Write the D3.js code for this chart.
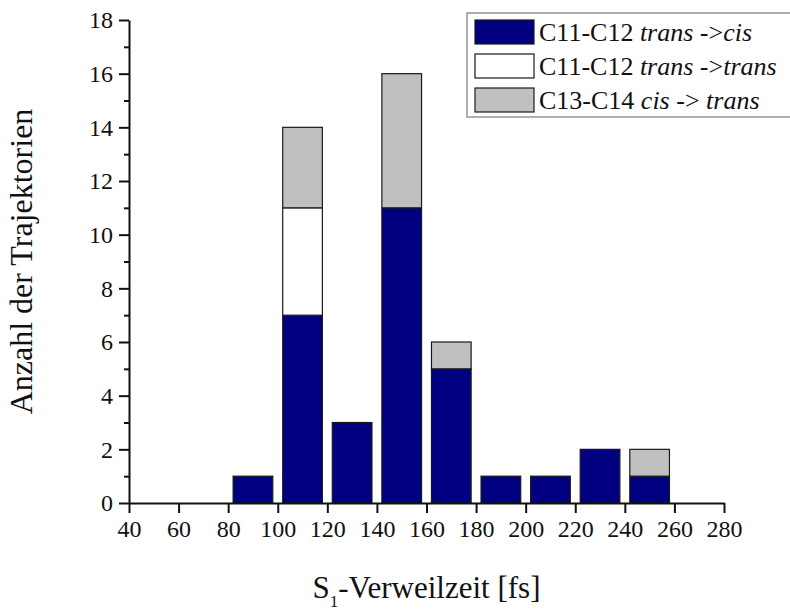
<!DOCTYPE html>
<html>
<head>
<meta charset="utf-8">
<script src="https://cdn.jsdelivr.net/npm/d3@7"></script>
<style>
  html, body { margin: 0; padding: 0; background: #fff; }
  svg { display: block; }
</style>
</head>
<body>
<svg id="chart" width="790" height="614"></svg>
<script>
// ---- data ----
const binCenters = [90, 110, 130, 150, 170, 190, 210, 230, 250];
const transCis   = [1, 7, 3, 11, 5, 1, 1, 2, 1];
const transTrans = [0, 4, 0, 0, 0, 0, 0, 0, 0];
const cisTrans   = [0, 3, 0, 5, 1, 0, 0, 0, 1];
const seriesKeys = ["transCis", "transTrans", "cisTrans"];
const xTicks = [40, 60, 80, 100, 120, 140, 160, 180, 200, 220, 240, 260, 280];
const yTicks = [0, 2, 4, 6, 8, 10, 12, 14, 16, 18];
const yMinorTicks = [1, 3, 5, 7, 9, 11, 13, 15, 17];

// ---- layout ----
const FONT = "'Liberation Serif', 'Times New Roman', serif";
const svg = d3.select("#chart");
const mLeft = 129, mRight = 724, mTop = 20, mBottom = 503;
const barW = 16; // bar width in data units (bins of 20)

const x = d3.scaleLinear().domain([40, 280]).range([mLeft, mRight]);
const y = d3.scaleLinear().domain([0, 18]).range([mBottom, mTop]);

const colors = { transCis: "#000080", transTrans: "#ffffff", cisTrans: "#c0c0c0" };

const table = binCenters.map((c, i) => ({
  center: c, transCis: transCis[i], transTrans: transTrans[i], cisTrans: cisTrans[i]
}));
const stacked = d3.stack().keys(seriesKeys)(table);

// bars
const g = svg.append("g");
stacked.forEach(layer => {
  g.selectAll(null)
    .data(layer.filter(d => d[1] - d[0] > 0))
    .enter().append("rect")
    .attr("x", d => x(d.data.center - barW / 2))
    .attr("width", d => x(d.data.center + barW / 2) - x(d.data.center - barW / 2))
    .attr("y", d => y(d[1]))
    .attr("height", d => y(d[0]) - y(d[1]))
    .attr("fill", colors[layer.key])
    .attr("stroke", "#1a1a1a")
    .attr("stroke-width", 1.2);
});

// axes
const xAxis = d3.axisBottom(x).tickValues(xTicks).tickSize(10).tickSizeOuter(0).tickPadding(7);
const gx = svg.append("g").attr("transform", `translate(0,${mBottom})`).call(xAxis);
gx.attr("font-family", null).attr("font-size", null);
gx.select(".domain").attr("stroke", "#111").attr("stroke-width", 2);
gx.selectAll(".tick line").attr("stroke", "#111").attr("stroke-width", 2);
gx.selectAll(".tick text").style("font-family", FONT).style("font-size", "24px").style("fill", "#111");

const yAxis = d3.axisLeft(y).tickValues(yTicks).tickSize(10).tickSizeOuter(0).tickPadding(6);
const gy = svg.append("g").attr("transform", `translate(${mLeft},0)`).call(yAxis);
gy.attr("font-family", null).attr("font-size", null);
gy.select(".domain").attr("stroke", "#111").attr("stroke-width", 2);
gy.selectAll(".tick line").attr("stroke", "#111").attr("stroke-width", 2);
gy.selectAll(".tick text").style("font-family", FONT).style("font-size", "24px").style("fill", "#111");

const yMinor = d3.axisLeft(y).tickValues(yMinorTicks).tickSize(5).tickSizeOuter(0).tickFormat("");
const gym = svg.append("g").attr("transform", `translate(${mLeft},0)`).call(yMinor);
gym.select(".domain").remove();
gym.selectAll(".tick line").attr("stroke", "#111").attr("stroke-width", 2);

// axis titles
svg.append("text")
  .attr("transform", `translate(32,${(mTop + mBottom) / 2}) rotate(-90)`)
  .attr("text-anchor", "middle")
  .style("font-family", FONT).style("font-size", "32px").style("fill", "#111")
  .text("Anzahl der Trajektorien");

const xt = svg.append("text")
  .attr("x", (mLeft + mRight) / 2)
  .attr("y", 598)
  .attr("text-anchor", "middle")
  .style("font-family", FONT).style("font-size", "31px").style("fill", "#111");
xt.append("tspan").text("S");
xt.append("tspan").style("font-size", "17px").attr("dy", 9).text("1");
xt.append("tspan").attr("dy", -9).text("-Verweilzeit [fs]");

// legend
const legend = svg.append("g");
legend.append("rect")
  .attr("x", 467).attr("y", 13).attr("width", 340).attr("height", 104)
  .attr("fill", "#fff").attr("stroke", "#7a7a7a").attr("stroke-width", 1.2);

const legendItems = [
  { key: "transCis", parts: [["C11-C12 ", false], ["trans", true], [" ->", false], ["cis", true]] },
  { key: "transTrans", parts: [["C11-C12 ", false], ["trans", true], [" ->", false], ["trans", true]] },
  { key: "cisTrans", parts: [["C13-C14 ", false], ["cis", true], [" -> ", false], ["trans", true]] }
];
legendItems.forEach((it, i) => {
  const yy = 20 + i * 34;
  legend.append("rect")
    .attr("x", 475).attr("y", yy).attr("width", 59).attr("height", 24)
    .attr("fill", colors[it.key]).attr("stroke", "#1a1a1a").attr("stroke-width", 1.2);
  const t = legend.append("text").attr("x", 539).attr("y", yy + 21)
    .style("font-family", FONT).style("font-size", "26px").style("fill", "#111");
  it.parts.forEach(p => {
    t.append("tspan").style("font-style", p[1] ? "italic" : "normal").style("white-space", "pre").text(p[0]);
  });
});
</script>
</body>
</html>
